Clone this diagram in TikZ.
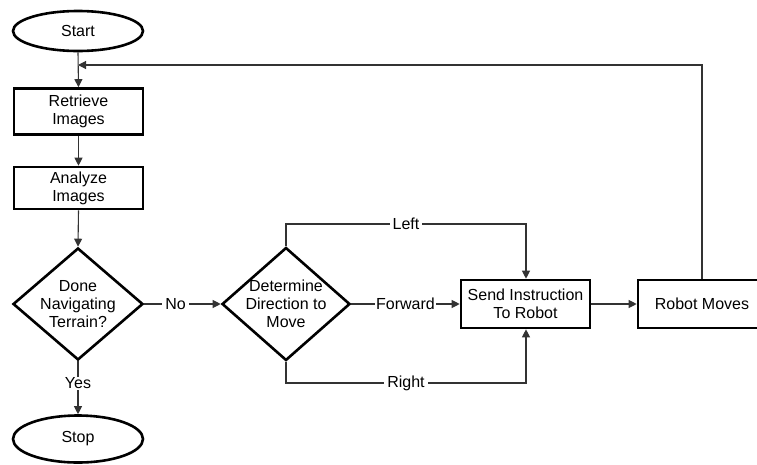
\documentclass[tikz,border=0pt]{standalone}
\usepackage{fontspec}
\setmainfont{Liberation Sans}
\usetikzlibrary{shapes.geometric,arrows.meta}
\tikzset{
  every node/.style={font=\fontsize{16}{18}\selectfont, align=center},
  terminal/.style={ellipse, draw, line width=2.6pt, minimum width=130pt, minimum height=40pt, inner sep=0pt},
  procbox/.style={rectangle, draw, line width=2.6pt, minimum width=129pt, inner sep=0pt},
  decision/.style={diamond, draw, line width=2.6pt, minimum width=130pt, minimum height=112pt, inner sep=0pt},
  conn/.style={line width=1.1pt, draw=black!80, -{Triangle[length=8pt,width=8pt]}},
  tag/.style={fill=white, inner xsep=3pt, inner ysep=1pt}
}
\begin{document}
\begin{tikzpicture}[x=1pt, y=-1pt]
  \useasboundingbox (0,0) rectangle (757,464);
  \clip (0,0) rectangle (757,464);

  % main column
  \node[terminal] (start) at (78,31) {Start};
  \node[procbox, minimum height=46pt] (retrieve) at (78.5,111.5) {Retrieve\\Images};
  \node[procbox, minimum height=42pt] (analyze) at (78.5,188) {Analyze\\Images};
  \node[decision, label={[align=center]center:Done\\Navigating\\Terrain?}] (done) at (78,304) {};
  \node[terminal, minimum height=47pt] (stop) at (78,439) {Stop};

  % right branch
  \node[decision, minimum width=128pt, minimum height=113pt, label={[align=center]center:Determine\\Direction to\\Move}] (dir) at (286,304) {};
  \node[procbox, minimum height=48pt] (send) at (525.5,304) {Send Instruction\\To Robot};
  \node[procbox, minimum width=128pt, minimum height=48pt] (robot) at (702,304) {Robot Moves};

  % joints of the routed connectors
  \coordinate (join) at (78,65);
  \coordinate (lefttop) at (286,224);
  \coordinate (leftend) at (526,224);
  \coordinate (rightbot) at (286,383);
  \coordinate (rightend) at (526,383);
  \coordinate (loopup) at (702,65);

  % connectors
  \draw[conn] (start.south) -- (retrieve.north);
  \draw[conn] (retrieve.south) -- (analyze.north);
  \draw[conn] (analyze.south) -- (done.north);
  \draw[conn] (done.south) -- node[tag, pos=0.42] {Yes} (stop.north);
  \draw[conn] (done.east) -- node[tag, pos=0.41] {No} (dir.west);
  \draw[conn] (dir.east) -- node[tag, inner xsep=1pt] {Forward} (send.west);
  \draw[conn] (dir.north) -- (lefttop) -- node[tag] {Left} (leftend) -- (send.north -| leftend);
  \draw[conn] (dir.south) -- (rightbot) -- node[tag] {Right} (rightend) -- (send.south -| rightend);
  \draw[conn] (send.east) -- (robot.west);
  \draw[conn] (robot.north) -- (loopup) -- (join);
\end{tikzpicture}
\end{document}
